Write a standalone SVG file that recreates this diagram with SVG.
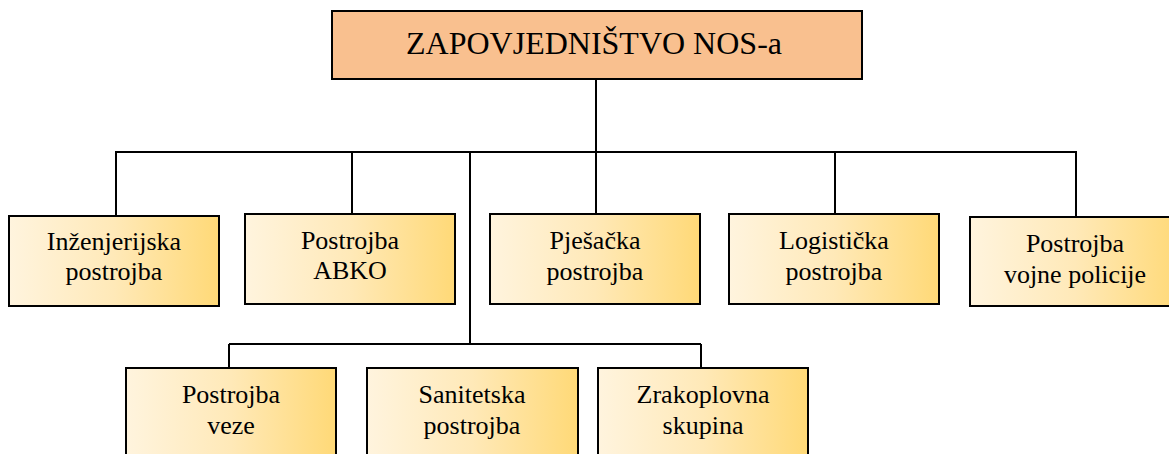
<svg xmlns="http://www.w3.org/2000/svg" width="1169" height="454" viewBox="0 0 1169 454">
<defs>
<linearGradient id="g" x1="0" y1="0" x2="1" y2="0">
<stop offset="0" stop-color="#FFF4DE"/>
<stop offset="0.5" stop-color="#FFE9B8"/>
<stop offset="1" stop-color="#FFD977"/>
</linearGradient>
<style>
.box{fill:url(#g);stroke:#000;stroke-width:2}
.top{fill:#F9C08F;stroke:#000;stroke-width:2}
.t{font-size:26px;fill:#000;text-anchor:middle}
.tt{font-size:32px;fill:#000;text-anchor:middle}
.c{stroke:#000;stroke-width:2;fill:none}
</style>
</defs>
<rect width="1169" height="454" fill="#fff"/>
<g id="connectors">
<path class="c" d="M596,79V152M115,152H1077M116,152V216M352,152V214M596,152V214M835,152V214M1076,152V217M470,152V344M229,344H701M229,344V368M701,344V368"/>
</g>
<g font-family="'Liberation Serif', 'DejaVu Serif', serif">
<g id="hq">
<rect class="top" x="332" y="11" width="530" height="68"/>
<text class="tt" x="594" y="54">ZAPOVJEDNIŠTVO NOS-a</text>
</g>
<g id="n1">
<rect class="box" x="9" y="216" width="210" height="90"/>
<text class="t" x="114" y="250">Inženjerijska</text>
<text class="t" x="114" y="280">postrojba</text>
</g>
<g id="n2">
<rect class="box" x="245" y="214" width="210" height="90"/>
<text class="t" x="350" y="249">Postrojba</text>
<text class="t" x="350" y="279">ABKO</text>
</g>
<g id="n3">
<rect class="box" x="490" y="214" width="210" height="90"/>
<text class="t" x="595" y="249">Pješačka</text>
<text class="t" x="595" y="280">postrojba</text>
</g>
<g id="n4">
<rect class="box" x="729" y="214" width="210" height="90"/>
<text class="t" x="834" y="249">Logistička</text>
<text class="t" x="834" y="280">postrojba</text>
</g>
<g id="n5">
<rect class="box" x="970" y="217" width="210" height="89"/>
<text class="t" x="1075" y="252">Postrojba</text>
<text class="t" x="1075" y="283">vojne policije</text>
</g>
<g id="n6">
<rect class="box" x="126" y="368" width="210" height="92"/>
<text class="t" x="231" y="403">Postrojba</text>
<text class="t" x="231" y="434">veze</text>
</g>
<g id="n7">
<rect class="box" x="367" y="368" width="211" height="92"/>
<text class="t" x="472" y="403">Sanitetska</text>
<text class="t" x="472" y="434">postrojba</text>
</g>
<g id="n8">
<rect class="box" x="598" y="368" width="210" height="92"/>
<text class="t" x="703" y="403">Zrakoplovna</text>
<text class="t" x="703" y="434">skupina</text>
</g>
</g>
</svg>
